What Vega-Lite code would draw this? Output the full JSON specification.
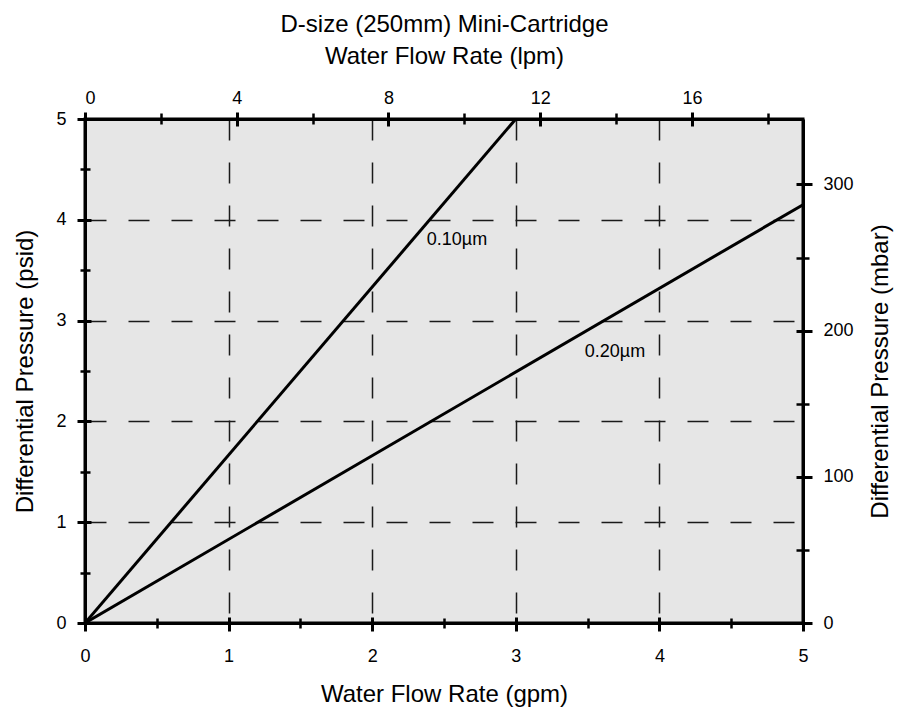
{
  "$schema": "https://vega.github.io/schema/vega-lite/v6.json",
  "width": 718,
  "height": 504,
  "autosize": {"type": "none"},
  "padding": {"left": 85, "top": 119, "right": 103, "bottom": 88},
  "background": "white",
  "config": {
    "view": {"fill": "#e6e6e6", "stroke": "black", "strokeWidth": 3},
    "font": "Liberation Sans",
    "axis": {
      "labelFont": "Liberation Sans",
      "titleFont": "Liberation Sans",
      "labelColor": "black",
      "titleColor": "black",
      "titleFontWeight": "normal",
      "labelFontSize": 18,
      "titleFontSize": 24,
      "tickColor": "black",
      "domainColor": "black"
    }
  },
  "datasets": {
    "curves": [
      {"filter": "0.10µm", "gpm": 0, "psid": 0},
      {"filter": "0.10µm", "gpm": 3, "psid": 5},
      {"filter": "0.20µm", "gpm": 0, "psid": 0},
      {"filter": "0.20µm", "gpm": 5, "psid": 4.15}
    ],
    "labels": [
      {"text": "0.10µm", "gpm": 2.38, "psid": 3.8},
      {"text": "0.20µm", "gpm": 3.48, "psid": 2.69}
    ],
    "metric": [
      {"lpm": 0, "mbar": 0},
      {"lpm": 18.927, "mbar": 344.74}
    ]
  },
  "resolve": {
    "scale": {"x": "independent", "y": "independent"},
    "axis": {"x": "independent", "y": "independent"}
  },
  "layer": [
    {
      "data": {"name": "curves"},
      "mark": {"type": "line", "color": "black", "strokeWidth": 3, "clip": true},
      "encoding": {
        "x": {
          "field": "gpm", "type": "quantitative",
          "scale": {"domain": [0, 5], "nice": false, "zero": false},
          "axis": {
            "orient": "bottom", "values": [0, 1, 2, 3, 4, 5],
            "title": "Water Flow Rate (gpm)",
            "ticks": false, "tickSize": 0, "labelPadding": 24,
            "domain": true, "domainWidth": 3,
            "grid": true, "gridColor": "#1a1a1a", "gridWidth": 1.5, "gridDash": [21, 22],
            "titleBaseline": "alphabetic", "titleY": 78, "labelFlush": false
          }
        },
        "y": {
          "field": "psid", "type": "quantitative",
          "scale": {"domain": [0, 5], "nice": false, "zero": false},
          "axis": {
            "orient": "left", "values": [0, 1, 2, 3, 4, 5],
            "title": "Differential Pressure (psid)",
            "ticks": false, "tickSize": 0, "labelPadding": 19,
            "domain": true, "domainWidth": 3,
            "grid": true, "gridColor": "#1a1a1a", "gridWidth": 1.5, "gridDash": [21, 22],
            "titleBaseline": "alphabetic", "titleX": -52.5, "titleAngle": -90, "labelFlush": false
          }
        },
        "detail": {"field": "filter"}
      }
    },
    {
      "data": {"name": "curves"},
      "mark": {"type": "point", "opacity": 0},
      "encoding": {
        "x": {
          "field": "gpm", "type": "quantitative",
          "scale": {"domain": [0, 5], "nice": false, "zero": false},
          "axis": {"orient": "bottom", "values": [0, 1, 2, 3, 4, 5], "title": null, "labels": false, "domain": false, "grid": false, "ticks": true, "tickSize": 14, "tickWidth": 3, "offset": -6}
        },
        "y": {
          "field": "psid", "type": "quantitative",
          "scale": {"domain": [0, 5], "nice": false, "zero": false},
          "axis": {"orient": "left", "values": [0, 1, 2, 3, 4, 5], "title": null, "labels": false, "domain": false, "grid": false, "ticks": true, "tickSize": 14, "tickWidth": 3, "offset": -6}
        }
      }
    },
    {
      "data": {"name": "curves"},
      "mark": {"type": "point", "opacity": 0},
      "encoding": {
        "x": {
          "field": "gpm", "type": "quantitative",
          "scale": {"domain": [0, 5], "nice": false, "zero": false},
          "axis": {"orient": "bottom", "values": [0.5, 1.5, 2.5, 3.5, 4.5], "title": null, "labels": false, "domain": false, "grid": false, "ticks": true, "tickSize": 10, "tickWidth": 2.5, "offset": -5}
        },
        "y": {
          "field": "psid", "type": "quantitative",
          "scale": {"domain": [0, 5], "nice": false, "zero": false},
          "axis": {"orient": "left", "values": [0.5, 1.5, 2.5, 3.5, 4.5], "title": null, "labels": false, "domain": false, "grid": false, "ticks": true, "tickSize": 10, "tickWidth": 2.5, "offset": -5}
        }
      }
    },
    {
      "data": {"name": "metric"},
      "mark": {"type": "point", "opacity": 0},
      "encoding": {
        "x": {
          "field": "lpm", "type": "quantitative",
          "scale": {"domain": [0, 18.927], "nice": false, "zero": false},
          "axis": {
            "orient": "top", "values": [0, 4, 8, 12, 16],
            "title": ["D-size (250mm) Mini-Cartridge", "Water Flow Rate (lpm)"],
            "titleLineHeight": 31.6, "titleBaseline": "alphabetic", "titleY": -87.3,
            "ticks": false, "tickSize": 0, "labelPadding": 12, "labelFlush": true,
            "domain": true, "domainWidth": 3, "grid": false
          }
        },
        "y": {
          "field": "mbar", "type": "quantitative",
          "scale": {"domain": [0, 344.74], "nice": false, "zero": false},
          "axis": {
            "orient": "right", "values": [0, 100, 200, 300],
            "title": "Differential Pressure (mbar)",
            "titleAngle": -90, "titleBaseline": "alphabetic", "titleX": 84,
            "ticks": false, "tickSize": 0, "labelPadding": 20, "labelFlush": false,
            "domain": true, "domainWidth": 3, "grid": false
          }
        }
      }
    },
    {
      "data": {"name": "metric"},
      "mark": {"type": "point", "opacity": 0},
      "encoding": {
        "x": {
          "field": "lpm", "type": "quantitative",
          "scale": {"domain": [0, 18.927], "nice": false, "zero": false},
          "axis": {"orient": "top", "values": [0, 4, 8, 12, 16], "title": null, "labels": false, "domain": false, "grid": false, "ticks": true, "tickSize": 14, "tickWidth": 3, "offset": -7}
        },
        "y": {
          "field": "mbar", "type": "quantitative",
          "scale": {"domain": [0, 344.74], "nice": false, "zero": false},
          "axis": {"orient": "right", "values": [0, 100, 200, 300], "title": null, "labels": false, "domain": false, "grid": false, "ticks": true, "tickSize": 16, "tickWidth": 3, "offset": -7}
        }
      }
    },
    {
      "data": {"name": "metric"},
      "mark": {"type": "point", "opacity": 0},
      "encoding": {
        "x": {
          "field": "lpm", "type": "quantitative",
          "scale": {"domain": [0, 18.927], "nice": false, "zero": false},
          "axis": {"orient": "top", "values": [2, 6, 10, 14, 18], "title": null, "labels": false, "domain": false, "grid": false, "ticks": true, "tickSize": 11, "tickWidth": 2.5, "offset": -5}
        },
        "y": {
          "field": "mbar", "type": "quantitative",
          "scale": {"domain": [0, 344.74], "nice": false, "zero": false},
          "axis": {"orient": "right", "values": [50, 150, 250], "title": null, "labels": false, "domain": false, "grid": false, "ticks": true, "tickSize": 13, "tickWidth": 2.5, "offset": -7}
        }
      }
    },
    {
      "data": {"name": "labels"},
      "mark": {"type": "text", "align": "left", "baseline": "middle", "fontSize": 18, "font": "Liberation Sans", "color": "black"},
      "encoding": {
        "x": {"field": "gpm", "type": "quantitative", "scale": {"domain": [0, 5], "nice": false, "zero": false}, "axis": null},
        "y": {"field": "psid", "type": "quantitative", "scale": {"domain": [0, 5], "nice": false, "zero": false}, "axis": null},
        "text": {"field": "text"}
      }
    }
  ]
}
